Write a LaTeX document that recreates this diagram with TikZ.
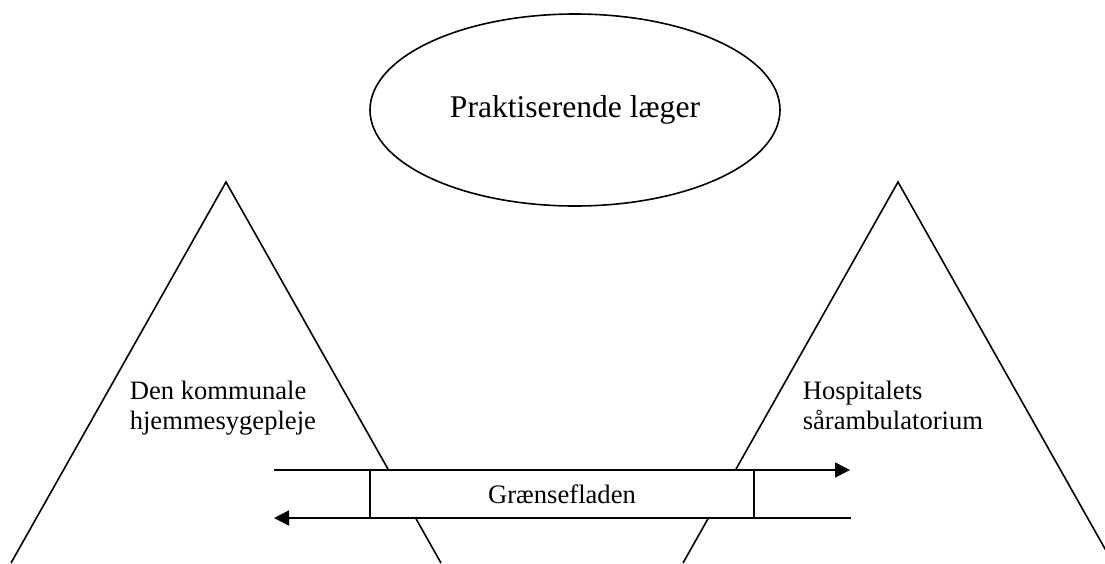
\documentclass[tikz,border=0pt]{standalone}
\usepackage{fontspec}
\setmainfont{Liberation Serif}
\usetikzlibrary{shapes.geometric,arrows.meta}

\tikzset{
  big/.style={font=\fontsize{31.6}{36}\selectfont},
  small/.style={font=\fontsize{26.6}{30}\selectfont},
  arrow/.style={-{Triangle[length=15pt,width=15pt]}},
}

\begin{document}
\begin{tikzpicture}[x=1pt, y=-1pt, line width=1.6pt]
          \useasboundingbox (0,0) rectangle (1105,563);
          \clip (0,0) rectangle (1105,563);

          % Triangles (only the sides, the base runs off the page)
          \coordinate (topL) at (226,182);
          \coordinate (topR) at (898,182);
          \draw (11,563) -- (topL) -- (441,563);
          \draw (683,563) -- (topR) -- (1113,563);

          % Node for the doctors (ellipse)
          \node[draw, ellipse, minimum width=410pt, minimum height=192pt, inner sep=0pt, big] (laeger) at (575,110) {Praktiserende læger};

          % Labels inside the triangles
          \node[small, align=left, anchor=north west, inner sep=0pt] (kommune) at (129,380) {Den kommunale\\hjemmesygepleje};
          \node[small, align=left, anchor=north west, inner sep=0pt] (hospital) at (802,380) {Hospitalets\\sårambulatorium};

          % Node for the interface (rectangle), over the triangles
          \node[draw, rectangle, fill=white, minimum width=384pt, minimum height=48pt, small] (graense) at (562,494) {Grænsefladen};

          % Free ends of the arrows
          \coordinate (fraV) at (274,470);
          \coordinate (tilH) at (850,470);
          \coordinate (fraH) at (851,518);
          \coordinate (tilV) at (274,518);

          % Directed edges
          \draw [arrow] (fraV) -- (tilH);
          \draw [arrow] (fraH) -- (tilV);
        \end{tikzpicture}
\end{document}
